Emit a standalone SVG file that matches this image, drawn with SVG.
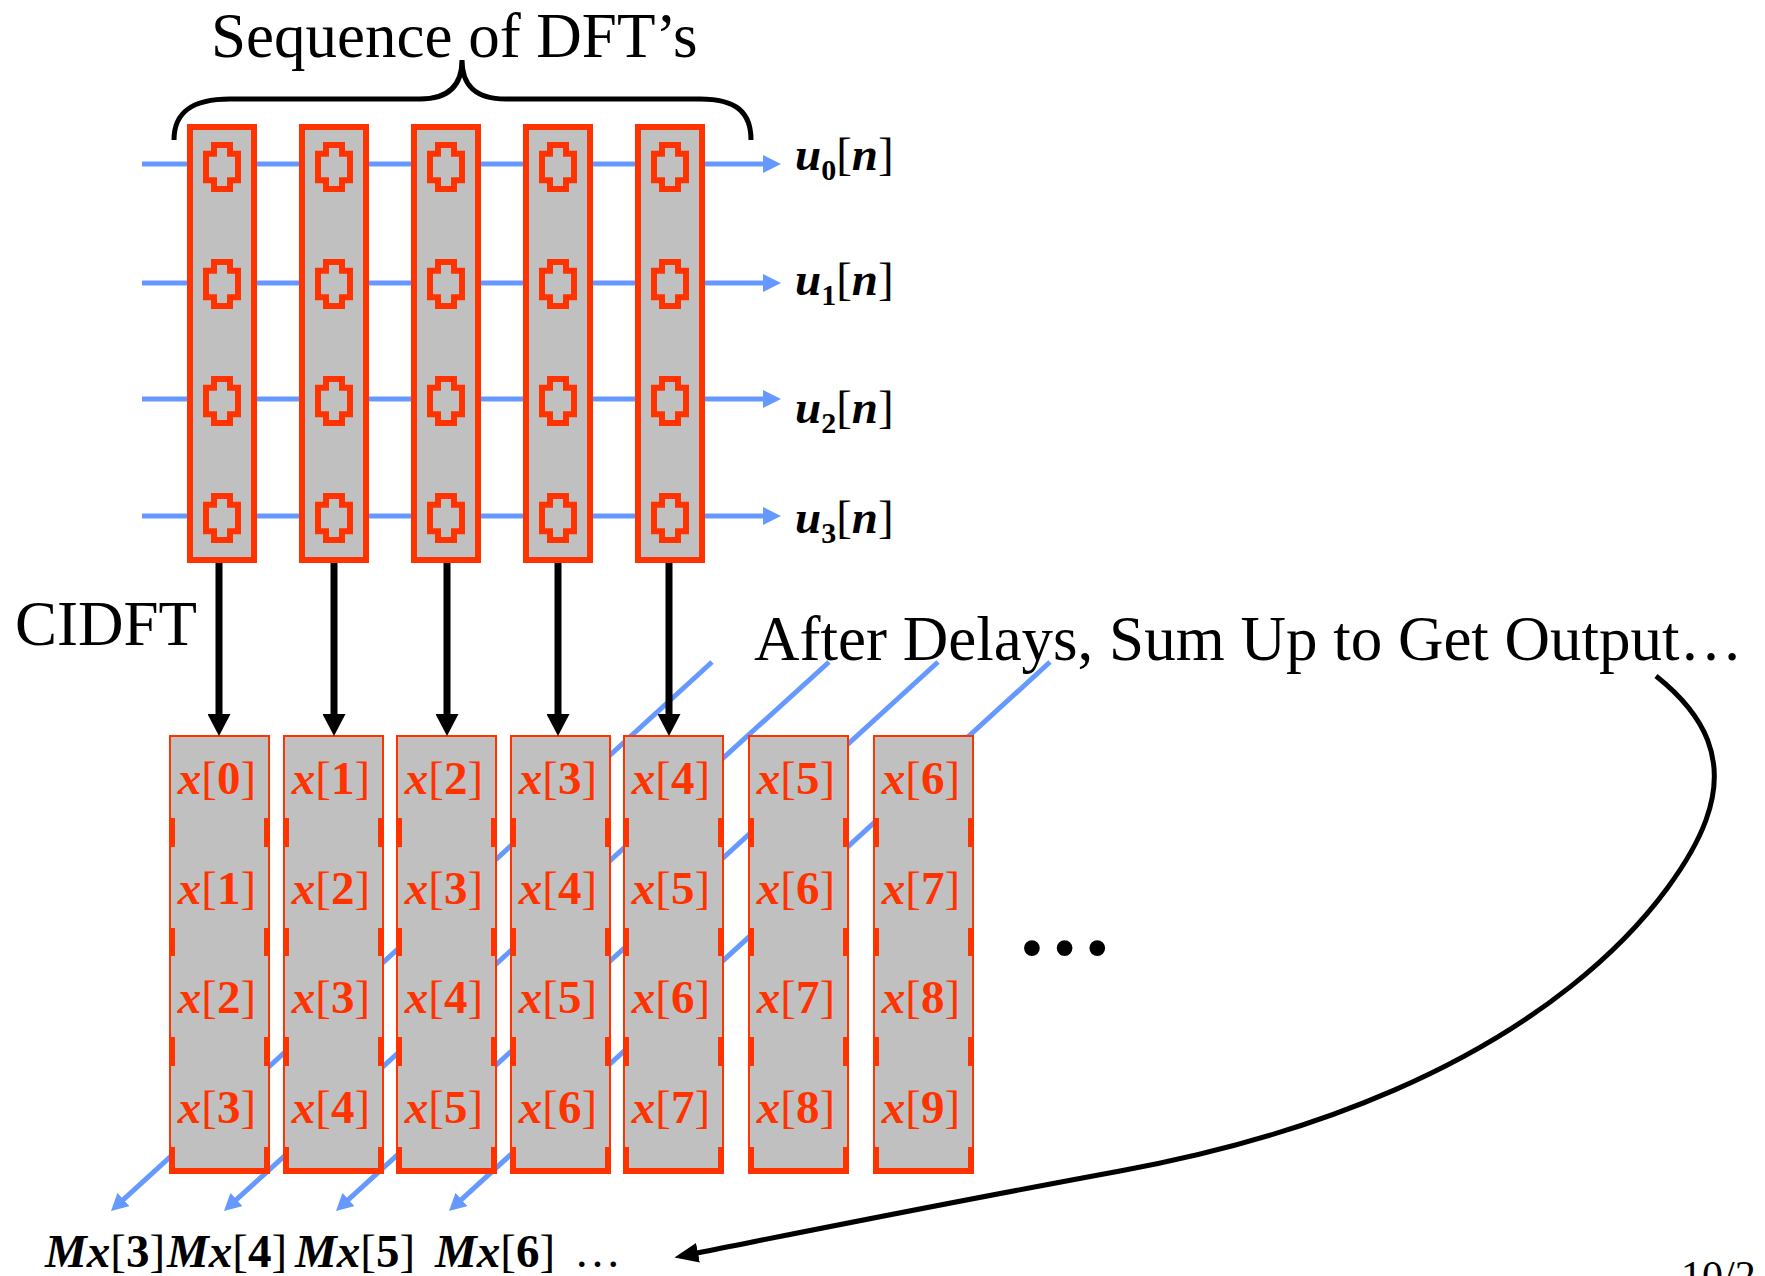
<svg xmlns="http://www.w3.org/2000/svg" xmlns:xlink="http://www.w3.org/1999/xlink" width="1765" height="1276" viewBox="0 0 1765 1276">
<style>
text{font-family:"Liberation Serif","Times New Roman",serif;}
.big{font-size:63px;fill:#000;}
.lab{font-size:47px;fill:#000;}
.xt{font-size:47px;fill:#FF3300;text-anchor:middle;}
.bi{font-weight:bold;font-style:italic;}
.b{font-weight:bold;}
.dft{fill:#C0C0C0;stroke:#FF3300;stroke-width:6;}
.xbox{fill:#C0C0C0;stroke:#FF3300;stroke-width:2;}
.tick{fill:#FF3300;}
.blue{stroke:#6699FF;stroke-width:5;fill:none;}
.blk{stroke:#000;stroke-width:7;fill:none;}
</style>
<defs>
<path id="sym" d="M-8,-22 H8 V-13.3 H16 V13.3 H8 V22 H-8 V13.3 H-16 V-13.3 H-8 Z" fill="none" stroke="#FF3300" stroke-width="6"/>
<g id="ticks">
<rect class="tick" x="0" y="818" width="6" height="29"/>
<rect class="tick" x="95" y="818" width="6" height="29"/>
<rect class="tick" x="0" y="928" width="6" height="28"/>
<rect class="tick" x="95" y="928" width="6" height="28"/>
<rect class="tick" x="0" y="1037" width="6" height="29"/>
<rect class="tick" x="95" y="1037" width="6" height="29"/>
<rect class="tick" x="0" y="1147" width="6" height="27"/>
<rect class="tick" x="95" y="1147" width="6" height="27"/>
<rect class="tick" x="0" y="1168" width="101" height="6"/>
</g>
<marker id="bh" markerUnits="userSpaceOnUse" viewBox="0 0 18 18" refX="0" refY="9" markerWidth="18" markerHeight="18" orient="auto"><path d="M0,0 L18,9 L0,18 Z" fill="#6699FF"/></marker>
<marker id="bd" markerUnits="userSpaceOnUse" viewBox="0 0 17 18" refX="1" refY="9" markerWidth="17" markerHeight="18" orient="auto"><path d="M0,0 L17,9 L0,18 Z" fill="#6699FF"/></marker>
<marker id="kh" markerUnits="userSpaceOnUse" viewBox="0 0 22 23" refX="0" refY="11.5" markerWidth="22" markerHeight="23" orient="auto"><path d="M0,0 L22,11.5 L0,23 Z" fill="#000"/></marker>
<marker id="kc" markerUnits="userSpaceOnUse" viewBox="0 0 24 20" refX="1" refY="10" markerWidth="24" markerHeight="20" orient="auto"><path d="M0,0 L24,10 L0,20 Z" fill="#000"/></marker>
</defs>
<rect width="1765" height="1276" fill="#fff"/>

<g id="connectors">
<g id="diag-lines">
<line class="blue" x1="712" y1="662" x2="122.8" y2="1200.2" marker-end="url(#bd)"/>
<line class="blue" x1="829" y1="662" x2="235.8" y2="1200.2" marker-end="url(#bd)"/>
<line class="blue" x1="938" y1="662" x2="347.8" y2="1200.2" marker-end="url(#bd)"/>
<line class="blue" x1="1050" y1="662" x2="460.8" y2="1200.2" marker-end="url(#bd)"/>
</g>
<g id="h-lines">
<line class="blue" x1="142" y1="164" x2="763" y2="164" marker-end="url(#bh)"/>
<line class="blue" x1="142" y1="283" x2="763" y2="283" marker-end="url(#bh)"/>
<line class="blue" x1="142" y1="399" x2="763" y2="399" marker-end="url(#bh)"/>
<line class="blue" x1="142" y1="516" x2="763" y2="516" marker-end="url(#bh)"/>
</g>
</g>

<g id="dft0"><rect class="dft" x="190" y="127" width="64" height="433"/><use xlink:href="#sym" x="222" y="167"/><use xlink:href="#sym" x="222" y="284"/><use xlink:href="#sym" x="222" y="401"/><use xlink:href="#sym" x="222" y="518"/></g>
<g id="dft1"><rect class="dft" x="302" y="127" width="64" height="433"/><use xlink:href="#sym" x="334" y="167"/><use xlink:href="#sym" x="334" y="284"/><use xlink:href="#sym" x="334" y="401"/><use xlink:href="#sym" x="334" y="518"/></g>
<g id="dft2"><rect class="dft" x="414" y="127" width="64" height="433"/><use xlink:href="#sym" x="446" y="167"/><use xlink:href="#sym" x="446" y="284"/><use xlink:href="#sym" x="446" y="401"/><use xlink:href="#sym" x="446" y="518"/></g>
<g id="dft3"><rect class="dft" x="526" y="127" width="64" height="433"/><use xlink:href="#sym" x="558" y="167"/><use xlink:href="#sym" x="558" y="284"/><use xlink:href="#sym" x="558" y="401"/><use xlink:href="#sym" x="558" y="518"/></g>
<g id="dft4"><rect class="dft" x="638" y="127" width="64" height="433"/><use xlink:href="#sym" x="670" y="167"/><use xlink:href="#sym" x="670" y="284"/><use xlink:href="#sym" x="670" y="401"/><use xlink:href="#sym" x="670" y="518"/></g>

<g id="xb0"><rect class="xbox" x="170" y="736" width="99" height="437"/><use xlink:href="#ticks" x="169"/>
<text class="xt" x="217" y="794"><tspan class="bi">x</tspan>[<tspan class="b">0</tspan>]</text>
<text class="xt" x="217" y="904"><tspan class="bi">x</tspan>[<tspan class="b">1</tspan>]</text>
<text class="xt" x="217" y="1013"><tspan class="bi">x</tspan>[<tspan class="b">2</tspan>]</text>
<text class="xt" x="217" y="1123"><tspan class="bi">x</tspan>[<tspan class="b">3</tspan>]</text></g>
<g id="xb1"><rect class="xbox" x="284" y="736" width="99" height="437"/><use xlink:href="#ticks" x="283"/>
<text class="xt" x="331" y="794"><tspan class="bi">x</tspan>[<tspan class="b">1</tspan>]</text>
<text class="xt" x="331" y="904"><tspan class="bi">x</tspan>[<tspan class="b">2</tspan>]</text>
<text class="xt" x="331" y="1013"><tspan class="bi">x</tspan>[<tspan class="b">3</tspan>]</text>
<text class="xt" x="331" y="1123"><tspan class="bi">x</tspan>[<tspan class="b">4</tspan>]</text></g>
<g id="xb2"><rect class="xbox" x="397" y="736" width="99" height="437"/><use xlink:href="#ticks" x="396"/>
<text class="xt" x="444" y="794"><tspan class="bi">x</tspan>[<tspan class="b">2</tspan>]</text>
<text class="xt" x="444" y="904"><tspan class="bi">x</tspan>[<tspan class="b">3</tspan>]</text>
<text class="xt" x="444" y="1013"><tspan class="bi">x</tspan>[<tspan class="b">4</tspan>]</text>
<text class="xt" x="444" y="1123"><tspan class="bi">x</tspan>[<tspan class="b">5</tspan>]</text></g>
<g id="xb3"><rect class="xbox" x="511" y="736" width="99" height="437"/><use xlink:href="#ticks" x="510"/>
<text class="xt" x="558" y="794"><tspan class="bi">x</tspan>[<tspan class="b">3</tspan>]</text>
<text class="xt" x="558" y="904"><tspan class="bi">x</tspan>[<tspan class="b">4</tspan>]</text>
<text class="xt" x="558" y="1013"><tspan class="bi">x</tspan>[<tspan class="b">5</tspan>]</text>
<text class="xt" x="558" y="1123"><tspan class="bi">x</tspan>[<tspan class="b">6</tspan>]</text></g>
<g id="xb4"><rect class="xbox" x="624" y="736" width="99" height="437"/><use xlink:href="#ticks" x="623"/>
<text class="xt" x="671" y="794"><tspan class="bi">x</tspan>[<tspan class="b">4</tspan>]</text>
<text class="xt" x="671" y="904"><tspan class="bi">x</tspan>[<tspan class="b">5</tspan>]</text>
<text class="xt" x="671" y="1013"><tspan class="bi">x</tspan>[<tspan class="b">6</tspan>]</text>
<text class="xt" x="671" y="1123"><tspan class="bi">x</tspan>[<tspan class="b">7</tspan>]</text></g>
<g id="xb5"><rect class="xbox" x="749" y="736" width="99" height="437"/><use xlink:href="#ticks" x="748"/>
<text class="xt" x="796" y="794"><tspan class="bi">x</tspan>[<tspan class="b">5</tspan>]</text>
<text class="xt" x="796" y="904"><tspan class="bi">x</tspan>[<tspan class="b">6</tspan>]</text>
<text class="xt" x="796" y="1013"><tspan class="bi">x</tspan>[<tspan class="b">7</tspan>]</text>
<text class="xt" x="796" y="1123"><tspan class="bi">x</tspan>[<tspan class="b">8</tspan>]</text></g>
<g id="xb6"><rect class="xbox" x="874" y="736" width="99" height="437"/><use xlink:href="#ticks" x="873"/>
<text class="xt" x="921" y="794"><tspan class="bi">x</tspan>[<tspan class="b">6</tspan>]</text>
<text class="xt" x="921" y="904"><tspan class="bi">x</tspan>[<tspan class="b">7</tspan>]</text>
<text class="xt" x="921" y="1013"><tspan class="bi">x</tspan>[<tspan class="b">8</tspan>]</text>
<text class="xt" x="921" y="1123"><tspan class="bi">x</tspan>[<tspan class="b">9</tspan>]</text></g>

<g id="arrows">
<line class="blk" x1="219" y1="563" x2="219" y2="714" marker-end="url(#kh)"/>
<line class="blk" x1="334" y1="563" x2="334" y2="714" marker-end="url(#kh)"/>
<line class="blk" x1="447" y1="563" x2="447" y2="714" marker-end="url(#kh)"/>
<line class="blk" x1="558" y1="563" x2="558" y2="714" marker-end="url(#kh)"/>
<line class="blk" x1="669" y1="563" x2="669" y2="714" marker-end="url(#kh)"/>
<path id="brace" d="M174,140 C174,112 192,99 230,99 L420,99 C450,99 462,84 462,60 C462,84 474,99 506,99 L700,99 C736,99 751,112 751,140" fill="none" stroke="#000" stroke-width="5"/>
<path id="sum-arrow" d="M1656,676 C1705,715 1728,760 1706,820 C1685,878 1560,1090 1120,1171 C920,1208 795,1233.6 697,1253" fill="none" stroke="#000" stroke-width="5" marker-end="url(#kc)"/>
</g>

<g id="labels">
<text class="big" x="211" y="57">Sequence of DFT’s</text>
<text class="big" x="15" y="645">CIDFT</text>
<text class="big" x="754" y="660">After Delays, Sum Up to Get Output…</text>
<text class="lab" x="795" y="170"><tspan class="bi">u</tspan><tspan class="b" font-size="30" dy="10">0</tspan><tspan dy="-10">[</tspan><tspan class="bi">n</tspan>]</text>
<text class="lab" x="795" y="295"><tspan class="bi">u</tspan><tspan class="b" font-size="30" dy="10">1</tspan><tspan dy="-10">[</tspan><tspan class="bi">n</tspan>]</text>
<text class="lab" x="795" y="423"><tspan class="bi">u</tspan><tspan class="b" font-size="30" dy="10">2</tspan><tspan dy="-10">[</tspan><tspan class="bi">n</tspan>]</text>
<text class="lab" x="795" y="533"><tspan class="bi">u</tspan><tspan class="b" font-size="30" dy="10">3</tspan><tspan dy="-10">[</tspan><tspan class="bi">n</tspan>]</text>
<text class="lab" x="45" y="1267"><tspan class="bi">Mx</tspan>[<tspan class="b">3</tspan>]</text>
<text class="lab" x="167" y="1267"><tspan class="bi">Mx</tspan>[<tspan class="b">4</tspan>]</text>
<text class="lab" x="295" y="1267"><tspan class="bi">Mx</tspan>[<tspan class="b">5</tspan>]</text>
<text class="lab" x="435" y="1267"><tspan class="bi">Mx</tspan>[<tspan class="b">6</tspan>]</text>
<text class="lab" x="574" y="1267">…</text>
<text x="1016" y="955" style="font-size:97px;fill:#000;font-weight:bold">…</text>
<text x="1681" y="1290" style="font-size:42px;fill:#000">10/2</text>
</g>
</svg>
